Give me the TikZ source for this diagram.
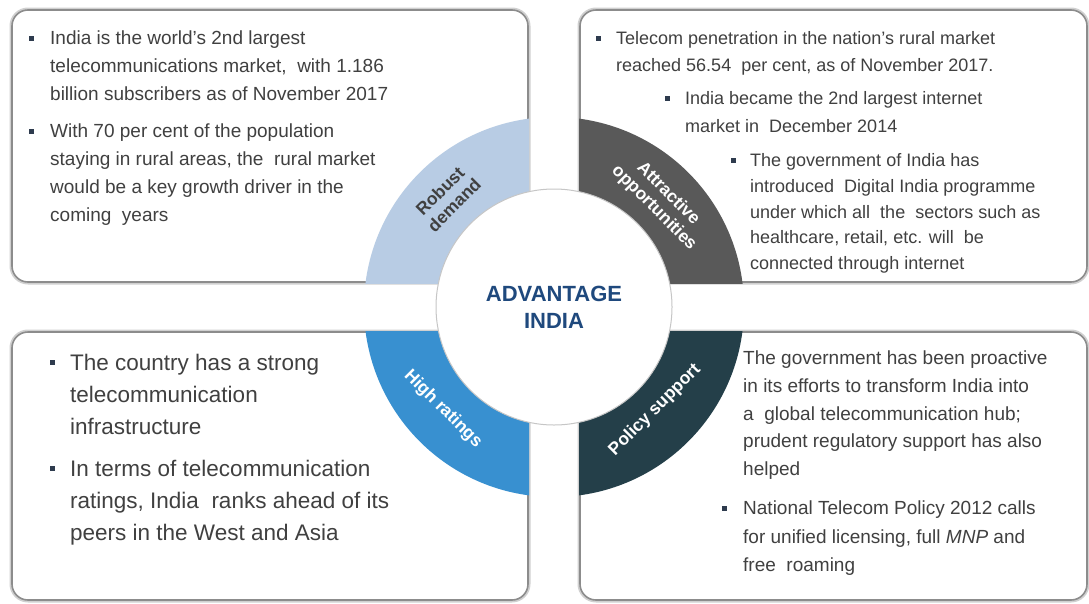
\documentclass[tikz,border=0pt]{standalone}
\usepackage{fontspec}
\setmainfont{Liberation Sans}
\usetikzlibrary{shadows}
\definecolor{qone}{HTML}{B8CCE4}
\definecolor{qtwo}{HTML}{595959}
\definecolor{qthree}{HTML}{3890D0}
\definecolor{qfour}{HTML}{243F49}
\definecolor{advblue}{HTML}{1F497D}
\definecolor{txtcol}{HTML}{404040}
\definecolor{bulcol}{HTML}{2E3B4E}
\definecolor{boxline}{HTML}{8C8C8C}
\definecolor{boxhalo}{HTML}{D0D0D0}
\begin{document}
\begin{tikzpicture}[x=1pt,y=-1pt,
  halo/.style={draw=boxhalo, line width=5pt, rounded corners=16pt},
  bx/.style={draw=boxline, line width=1.6pt, rounded corners=16pt, fill=white},
  txt/.style={anchor=north west, inner sep=0pt, align=left, text=txtcol},
  tl/.style={txt, font=\fontsize{19}{28}\selectfont},
  tr/.style={txt, font=\fontsize{18}{27}\selectfont},
  bl/.style={txt, font=\fontsize{22.5}{32.2}\selectfont},
  br/.style={txt, font=\fontsize{19}{27.6}\selectfont},
  bul/.style={fill=bulcol, minimum size=5pt, inner sep=0pt, outer sep=0pt},
  lab/.style={font=\bfseries\fontsize{17.5}{20}\selectfont, align=center, inner sep=0pt}]
\useasboundingbox (0,0) rectangle (1089,603);
% boxes
\draw[halo] (12,10) rectangle (528,282);
\draw[halo] (580,10) rectangle (1087,282);
\draw[halo] (12,332) rectangle (528,600);
\draw[halo] (580,332) rectangle (1087,600);
\draw[bx] (12,10) rectangle (528,282);
\draw[bx] (580,10) rectangle (1087,282);
\draw[bx] (12,332) rectangle (528,600);
\draw[bx] (580,332) rectangle (1087,600);
% quadrants
\begin{scope}\clip (0,0) rectangle (529,283);
  \fill[qone] (554,307) circle[radius=190pt];\end{scope}
\begin{scope}\clip (579,0) rectangle (1089,283);
  \fill[qtwo] (554,307) circle[radius=190pt];\end{scope}
\begin{scope}\clip (0,331) rectangle (529,603);
  \fill[qthree] (554,307) circle[radius=190pt];\end{scope}
\begin{scope}\clip (579,331) rectangle (1089,603);
  \fill[qfour] (554,307) circle[radius=190pt];\end{scope}
% centre
\node[circle, minimum size=236pt, fill=white, draw=gray!45, line width=1pt, inner sep=0pt] (hub) at (554,307) {};
\node[font=\bfseries\fontsize{22}{27}\selectfont, text=advblue, align=center] (advt) at (554,307) {ADVANTAGE\\INDIA};
% ring labels
\node[lab, text=txtcol, rotate=45] (lrob) at (447,198) {Robust\\demand};
\node[lab, text=white, rotate=-45] (latt) at (661,201) {Attractive\\opportunities};
\node[lab, text=white, rotate=-45] (lhigh) at (443,409) {High ratings};
\node[lab, text=white, rotate=45] (lpol) at (655,410) {Policy support};
% top-left text
\node[bul] (b1) at (31,38) {};
\node[tl] (t1) at (50,31) {India is the world's 2nd largest\\telecommunications market,\ \ with 1.186\\billion subscribers as of November 2017};
\node[bul] (b2) at (31,131) {};
\node[tl] (t2) at (50,124) {With 70 per cent of the population\\staying in rural areas, the\ \ rural market\\would be a key growth driver in the\\coming\ \ years};
% top-right text
\node[bul] (b3) at (598,38) {};
\node[tr] (t3) at (616,31.3) {Telecom penetration in the nation’s rural market\\reached 56.54\ \ per cent, as of November 2017.};
\node[bul] (b4) at (667,98) {};
\node[tr, font=\fontsize{18}{28}\selectfont] (t4) at (685,91.3) {India became the 2nd largest internet\\market in\ \ December 2014};
\node[bul] (b5) at (733,160) {};
\node[tr, font=\fontsize{18}{25.8}\selectfont] (t5) at (750,153.3) {The government of India has\\introduced\ \ Digital India programme\\under which all\ \ the\ \ sectors such as\\healthcare, retail, etc. will\ \ be\\connected through internet};
% bottom-left text
\node[bul] (b6) at (52,362) {};
\node[bl] (t6) at (70,353.7) {The country has a strong\\telecommunication\\infrastructure};
\node[bul] (b7) at (52,468) {};
\node[bl] (t7) at (70,459.7) {In terms of telecommunication\\ratings, India\ \ ranks ahead of its\\peers in the West and Asia};
% bottom-right text
\node[br] (t8) at (743,351) {The government has been proactive\\in its efforts to transform India into\\a\ \ global telecommunication hub;\\prudent regulatory support has also\\helped};
\node[bul] (b9) at (724,508) {};
\node[br, font=\fontsize{19}{28.5}\selectfont] (t9) at (743,501) {National Telecom Policy 2012 calls\\for unified licensing, full \textit{MNP} and\\free\ \ roaming};
\end{tikzpicture}
\end{document}
